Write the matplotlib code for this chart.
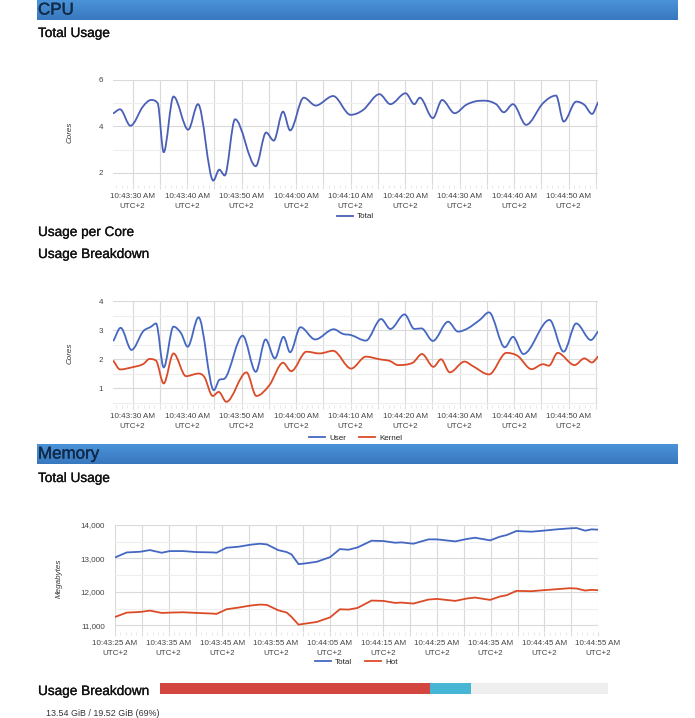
import numpy as np
import matplotlib
matplotlib.use("Agg")
import matplotlib.pyplot as plt
import matplotlib.patheffects as pe
from matplotlib.path import Path
from matplotlib.patches import PathPatch
from matplotlib.lines import Line2D
from matplotlib.colors import LinearSegmentedColormap
from matplotlib.ticker import MultipleLocator, FixedLocator

plt.rcParams['font.family'] = ['Liberation Sans', 'DejaVu Sans']

# ---------------- data ----------------
# time = seconds after 10:43:00 (UTC+2)
cpu_total_t = [26.5, 27.7, 29.6, 31.9, 33.4, 34.6, 35.7, 37.5, 40.2, 42.0, 44.8, 45.9, 46.9, 48.8,
               52.6, 54.5, 55.9, 57.6, 58.9, 61.4, 63.6, 66.8, 70.0, 72.3, 75.3, 77.3, 80.1, 81.7,
               82.7, 85.1, 86.8, 89.1, 91.2, 92.9, 94.6, 96.7, 98.1, 99.8, 102.2, 105.3, 107.7,
               109.1, 111.4, 112.9, 114.3, 115.4]
cpu_total_v = [4.57, 4.74, 4.03, 4.86, 5.14, 5.0, 2.89, 5.29, 3.86, 4.96, 1.67, 2.14, 1.89, 4.31,
               2.29, 3.74, 3.39, 4.64, 3.83, 5.24, 4.9, 5.31, 4.5, 4.71, 5.39, 4.96, 5.43, 4.96,
               5.24, 4.36, 5.14, 4.57, 4.93, 5.08, 5.11, 4.96, 4.61, 4.96, 4.07, 5.0, 5.33,
               4.21, 5.07, 4.93, 4.54, 5.03]

cpu_user_t = [26.5, 27.8, 29.8, 31.9, 33.4, 34.3, 35.7, 37.5, 38.9, 40.1, 42.1, 44.9, 45.9, 46.9,
              50.2, 52.6, 54.4, 56.1, 57.7, 58.9, 60.8, 63.5, 66.9, 68.6, 70.1, 72.8, 75.6, 77.3,
              79.9, 81.7, 83.0, 85.1, 87.9, 89.7, 91.5, 93.7, 95.4, 98.3, 99.8, 101.7, 106.5,
              109.1, 111.4, 114.1, 115.4]
cpu_user_v = [2.64, 3.08, 2.32, 2.95, 3.12, 3.23, 1.72, 3.12, 2.89, 2.43, 3.44, 0.94, 1.29, 1.34,
              2.81, 1.57, 2.68, 2.03, 2.77, 2.24, 3.1, 2.68, 3.03, 2.87, 2.83, 2.64, 3.38, 3.04,
              3.54, 3.04, 3.06, 2.63, 3.29, 2.95, 3.06, 3.35, 3.61, 2.41, 2.77, 2.18, 3.35,
              2.26, 3.23, 2.66, 2.95]

cpu_kernel_t = [26.5, 27.7, 29.8, 31.9, 33.1, 34.3, 35.7, 37.5, 39.8, 42.1, 43.2, 44.7, 45.8, 47.2,
                50.9, 52.7, 55.1, 57.6, 59.1, 61.9, 64.3, 66.8, 70.1, 72.8, 75.3, 77.2, 78.7, 81.4,
                83.1, 85.2, 86.6, 88.2, 90.9, 92.4, 95.4, 98.6, 100.7, 103.2, 105.3, 106.4, 108.0,
                111.1, 112.9, 114.3, 115.4]
cpu_kernel_v = [1.94, 1.65, 1.72, 1.83, 2.01, 1.95, 1.17, 2.2, 1.42, 1.51, 1.38, 0.74, 0.88, 0.54,
                1.55, 0.74, 1.11, 1.88, 1.59, 2.26, 2.2, 2.29, 1.68, 2.09, 2.0, 1.94, 1.8, 1.88,
                2.18, 1.74, 2.0, 1.55, 1.92, 1.77, 1.48, 2.22, 2.11, 1.66, 1.83, 1.78, 2.22,
                1.8, 2.03, 1.89, 2.09]

mem_t = [25, 27.2, 29.7, 31.5, 33.7, 35.2, 37.7, 40.2, 43.3, 43.9, 45.8, 48.0, 50.2, 52.0, 53.3,
         55.4, 57.0, 57.9, 59.2, 60.4, 62.6, 65.1, 66.9, 68.5, 70.2, 72.8, 75.0, 77.2, 78.4, 80.6,
         83.4, 85.0, 88.4, 90.5, 92.1, 94.9, 96.7, 98.0, 99.8, 102.6, 104.8, 107.3, 109.8, 111.0,
         112.6, 113.8, 115]
mem_total = [13030, 13180, 13200, 13250, 13170, 13220, 13220, 13190, 13180, 13170, 13320, 13350,
             13410, 13440, 13420, 13250, 13190, 13120, 12830, 12850, 12900, 13040, 13280, 13260,
             13330, 13530, 13520, 13470, 13480, 13440, 13570, 13570, 13510, 13580, 13620, 13540,
             13650, 13700, 13820, 13800, 13830, 13870, 13900, 13910, 13830, 13870, 13860]
mem_hot = [11250, 11380, 11400, 11440, 11370, 11380, 11390, 11370, 11350, 11340, 11480, 11530,
           11590, 11620, 11610, 11450, 11380, 11250, 11020, 11050, 11100, 11240, 11480, 11470,
           11520, 11740, 11730, 11670, 11680, 11650, 11770, 11790, 11730, 11800, 11830, 11760,
           11860, 11900, 12030, 12020, 12050, 12080, 12110, 12100, 12040, 12060, 12050]

cpu_tick_pos = [30, 40, 50, 60, 70, 80, 90, 100, 110]
cpu_tick_labels = ["10:43:30 AM\nUTC+2", "10:43:40 AM\nUTC+2", "10:43:50 AM\nUTC+2",
                   "10:44:00 AM\nUTC+2", "10:44:10 AM\nUTC+2", "10:44:20 AM\nUTC+2",
                   "10:44:30 AM\nUTC+2", "10:44:40 AM\nUTC+2", "10:44:50 AM\nUTC+2"]
mem_tick_pos = [25, 35, 45, 55, 65, 75, 85, 95, 105, 115]
mem_tick_labels = ["10:43:25 AM\nUTC+2", "10:43:35 AM\nUTC+2", "10:43:45 AM\nUTC+2",
                   "10:43:55 AM\nUTC+2", "10:44:05 AM\nUTC+2", "10:44:15 AM\nUTC+2",
                   "10:44:25 AM\nUTC+2", "10:44:35 AM\nUTC+2", "10:44:45 AM\nUTC+2",
                   "10:44:55 AM\nUTC+2"]

mem_used_gib = 13.54
mem_total_gib = 19.52
mem_hot_gib = 11.77

# ---------------- style ----------------
W, H = 695, 718
BLUE = '#4467c2'
BLUE1 = '#4a5fb6'
RED = '#db4b27'
TXT = '#444444'
GRID_MAJ = '#dadada'
GRID_MIN = '#eeeeee'
TICK_FS = 5.8

fig = plt.figure(figsize=(W / 100, H / 100), dpi=100)


def axes_px(l, t, r, b, **kw):
    return fig.add_axes([l / W, 1 - b / H, (r - l) / W, (b - t) / H], **kw)


def header(top, bottom, text):
    gax = axes_px(37, top, 677, bottom)
    cmap = LinearSegmentedColormap.from_list('hdr', ['#4b93d9', '#3878bf'])
    gax.imshow(np.linspace(0, 1, 50).reshape(-1, 1), aspect='auto', cmap=cmap,
               extent=[0, 1, 0, 1])
    gax.axis('off')
    fig.text(38 / W, 1 - (top + bottom) / 2 / H, text, va='center', ha='left',
             fontsize=12.2, color='#112a48',
             path_effects=[pe.withStroke(linewidth=0.25, foreground='#112a48')])


def title(y, text):
    fig.text(38 / W, 1 - y / H, text, va='center', ha='left', fontsize=9.8, color='#111111',
             path_effects=[pe.withStroke(linewidth=0.2, foreground='#111111')])


def smooth_patch(ax, x, y, color):
    """Smooth line through the data points (cubic Bezier segments, like curveType 'function')."""
    x = np.asarray(x, float)
    y = np.asarray(y, float)
    n = len(x)
    m = np.zeros(n)
    for i in range(n):
        if i == 0:
            m[i] = (y[1] - y[0]) / (x[1] - x[0])
        elif i == n - 1:
            m[i] = (y[-1] - y[-2]) / (x[-1] - x[-2])
        else:
            d0 = (y[i] - y[i - 1]) / (x[i] - x[i - 1])
            d1 = (y[i + 1] - y[i]) / (x[i + 1] - x[i])
            if d0 * d1 <= 0:
                m[i] = 0.0
            else:
                c = (y[i + 1] - y[i - 1]) / (x[i + 1] - x[i - 1])
                lim = 3 * min(abs(d0), abs(d1))
                m[i] = np.sign(c) * min(abs(c), lim)
    verts = [(x[0], y[0])]
    codes = [Path.MOVETO]
    for i in range(n - 1):
        h = x[i + 1] - x[i]
        verts += [(x[i] + h / 3, y[i] + m[i] * h / 3),
                  (x[i + 1] - h / 3, y[i + 1] - m[i + 1] * h / 3),
                  (x[i + 1], y[i + 1])]
        codes += [Path.CURVE4] * 3
    ax.add_patch(PathPatch(Path(verts, codes), fill=False, edgecolor=color, lw=1.3,
                           capstyle='round', joinstyle='round'))


def style(ax, xlim, ylim, tick_pos, tick_labels, ymaj, ymin, ylabels, ylabel, ylabel_x):
    ax.set_xlim(xlim)
    ax.set_ylim(ylim)
    for s in ax.spines.values():
        s.set_visible(False)
    grid_x = np.arange(np.ceil(xlim[0] / 5) * 5, xlim[1] + 0.01, 5)
    lab = dict(zip(tick_pos, tick_labels))
    ax.set_xticks(grid_x)
    ax.set_xticklabels([lab.get(int(round(g)), '') for g in grid_x])
    ax.xaxis.set_minor_locator(MultipleLocator(1))
    ax.set_yticks(ymaj)
    ax.set_yticklabels(ylabels)
    ax.yaxis.set_minor_locator(FixedLocator(ymin))
    ax.grid(True, which='major', color=GRID_MAJ, lw=0.8)
    ax.grid(True, which='minor', axis='y', color=GRID_MIN, lw=0.8)
    ax.set_axisbelow(True)
    ax.tick_params(axis='x', which='major', length=3, color='#dddddd', labelsize=TICK_FS,
                   labelcolor=TXT, pad=3)
    ax.tick_params(axis='x', which='minor', length=2.5, color='#dedede', width=0.5)
    ax.tick_params(axis='y', which='both', length=0, labelsize=TICK_FS, labelcolor=TXT, pad=7)
    for t in ax.get_xticklabels():
        t.set_linespacing(1.5)
    ax.set_ylabel(ylabel, fontsize=TICK_FS, style='italic', color='#333333')
    ax.yaxis.set_label_coords(ylabel_x, 0.5)


def legend(ax, handles, names, y):
    ax.legend(handles, names, loc='center', bbox_to_anchor=(0.5, y), ncol=len(names),
              frameon=False, fontsize=TICK_FS, handlelength=2.0, handletextpad=0.5,
              columnspacing=1.6, labelcolor='#222222')


# ---------------- CPU ----------------
header(0, 20, 'CPU')
title(33, 'Total Usage')

ax1 = axes_px(113, 80, 598, 185)
style(ax1, (26.4, 115.4), (1.48, 6), cpu_tick_pos, cpu_tick_labels,
      [2, 4, 6], [3, 5], ['2', '4', '6'], 'Cores', -0.082)
smooth_patch(ax1, cpu_total_t, cpu_total_v, BLUE1)
legend(ax1, [Line2D([], [], color=BLUE1, lw=1.3)], ['Total'], -0.3)

title(232, 'Usage per Core')
title(254, 'Usage Breakdown')

ax2 = axes_px(113, 301, 598, 405)
style(ax2, (26.4, 115.4), (0.43, 4), cpu_tick_pos, cpu_tick_labels,
      [1, 2, 3, 4], [1.5, 2.5, 3.5, 0.5], ['1', '2', '3', '4'], 'Cores', -0.082)
smooth_patch(ax2, cpu_user_t, cpu_user_v, BLUE)
smooth_patch(ax2, cpu_kernel_t, cpu_kernel_v, RED)
legend(ax2, [Line2D([], [], color=BLUE, lw=1.3), Line2D([], [], color=RED, lw=1.3)],
       ['User', 'Kernel'], -0.32)

# ---------------- Memory ----------------
header(444, 464, 'Memory')
title(478, 'Total Usage')

ax3 = axes_px(115, 525, 598, 632)
style(ax3, (25, 115), (10800, 14000), mem_tick_pos, mem_tick_labels,
      [11000, 12000, 13000, 14000], [11500, 12500, 13500],
      ['11,000', '12,000', '13,000', '14,000'], 'Megabytes', -0.108)
ax3.plot(mem_t, mem_total, color=BLUE, lw=1.3, solid_joinstyle='round')
ax3.plot(mem_t, mem_hot, color=RED, lw=1.3, solid_joinstyle='round')
legend(ax3, [Line2D([], [], color=BLUE, lw=1.3), Line2D([], [], color=RED, lw=1.3)],
       ['Total', 'Hot'], -0.28)

# ---------------- Usage breakdown bar ----------------
title(691, 'Usage Breakdown')
bax = axes_px(160, 683, 608, 694)
bax.set_xlim(0, mem_total_gib)
bax.set_ylim(0, 1)
bax.axis('off')
bax.barh([0.5], [mem_total_gib], height=1, color='#eeeeee')
bax.barh([0.5], [mem_hot_gib], height=1, color='#d3463f')
bax.barh([0.5], [mem_used_gib - mem_hot_gib], left=[mem_hot_gib], height=1, color='#47b6d4')
fig.text(46 / W, 1 - 713 / H,
         f'{mem_used_gib:.2f} GiB / {mem_total_gib:.2f} GiB ({mem_used_gib / mem_total_gib:.0%})',
         va='center', ha='left', fontsize=6.4, color='#333333')

fig.savefig('out.png', dpi=100)
